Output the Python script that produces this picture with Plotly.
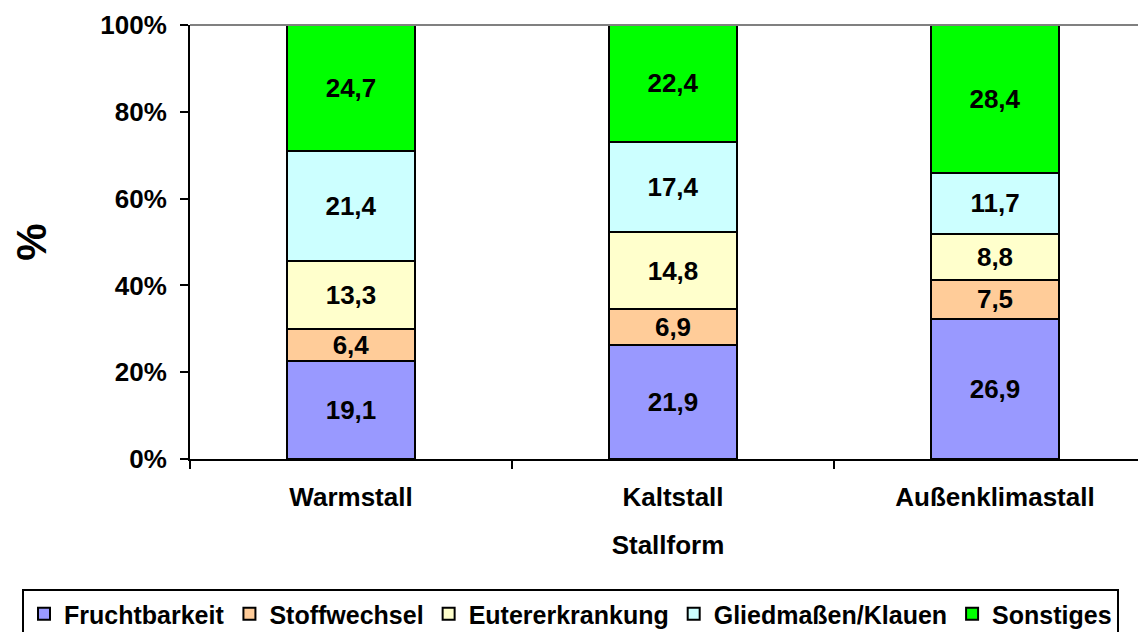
import plotly.graph_objects as go

categories = ["Warmstall", "Kaltstall", "Außenklimastall"]
series_names = ["Fruchtbarkeit", "Stoffwechsel", "Eutererkrankung", "Gliedmaßen/Klauen", "Sonstiges"]
fruchtbarkeit = [19.1, 21.9, 26.9]
stoffwechsel = [6.4, 6.9, 7.5]
euter = [13.3, 14.8, 8.8]
gliedmassen = [21.4, 17.4, 11.7]
sonstiges = [24.7, 22.4, 28.4]
y_ticks = [0, 20, 40, 60, 80, 100]
y_tick_labels = ["0%", "20%", "40%", "60%", "80%", "100%"]

series_values = [fruchtbarkeit, stoffwechsel, euter, gliedmassen, sonstiges]
colors = ["#9999FF", "#FFCC99", "#FFFFCC", "#CCFFFF", "#00FF00"]

FONT = "Liberation Sans, Arial, sans-serif"
FS = 26
fig = go.Figure()
for name, vals, col in zip(series_names, series_values, colors):
    fig.add_trace(go.Bar(
        name=f"<b>{name}</b>", x=categories, y=vals,
        marker=dict(color=col, line=dict(color="black", width=2)),
        text=[f"{v:.1f}".replace(".", ",") for v in vals],
        texttemplate="<b>%{text}</b>",
        textposition="inside", insidetextanchor="middle", textangle=0,
        textfont=dict(family=FONT, size=FS, color="black"),
        width=0.4,
        hoverinfo="skip",
    ))

# page has an 8px body margin: figure origin sits at page (8, 8)
OFF = 8
W, H = 1146 - OFF, 632 - OFF
L = 190 - OFF
T = 25 - OFF
plot_bottom = 459 - OFF
B = H - plot_bottom
plot_h = plot_bottom - T

fig.update_layout(
    barmode="stack", barnorm="percent",
    width=W, height=H,
    margin=dict(l=0, r=0, t=T, b=B, autoexpand=False),
    paper_bgcolor="white", plot_bgcolor="white",
    font=dict(family=FONT, size=FS, color="black"),
    uniformtext=dict(minsize=FS, mode="show"),
    showlegend=True,
    legend=dict(
        orientation="h", x=(22 - OFF) / W, xanchor="left",
        y=(plot_bottom - (589 - OFF)) / plot_h, yanchor="top",
        bordercolor="black", borderwidth=2,
        font=dict(family=FONT, size=25, color="black"),
        traceorder="normal", itemclick=False, itemdoubleclick=False,
        itemwidth=30,
    ),
    xaxis=dict(
        type="category", range=[-0.5, 2.5 - 10 / 322], domain=[L / W, 1],
        showline=True, linecolor="black", linewidth=2,
        ticks="outside", tickson="boundaries", ticklen=8, tickwidth=2, tickcolor="black",
        tickvals=categories, ticktext=[f"<b>{c}</b>" for c in categories],
        tickfont=dict(family=FONT, size=FS, color="black"),
        ticklabelstandoff=14, automargin=False,
        title=dict(text="<b>Stallform</b>", font=dict(family=FONT, size=FS, color="black"), standoff=25),
        showgrid=False, zeroline=False,
    ),
    yaxis=dict(
        range=[0, 100], tickvals=y_ticks, ticktext=[f"<b>{t}</b>" for t in y_tick_labels],
        showline=True, linecolor="black", linewidth=2,
        ticks="outside", ticklen=8, tickwidth=2, tickcolor="black",
        tickfont=dict(family=FONT, size=FS, color="black"),
        ticklabelstandoff=8, automargin=False,
        title=dict(text="<b>%</b>", font=dict(family=FONT, size=42, color="black"), standoff=52),
        showgrid=False, zeroline=False,
    ),
    shapes=[dict(type="line", xref="paper", yref="paper", x0=L / W, x1=1, y0=1, y1=1,
                 line=dict(color="#808080", width=2))],
)

fig.write_html("out.html")
